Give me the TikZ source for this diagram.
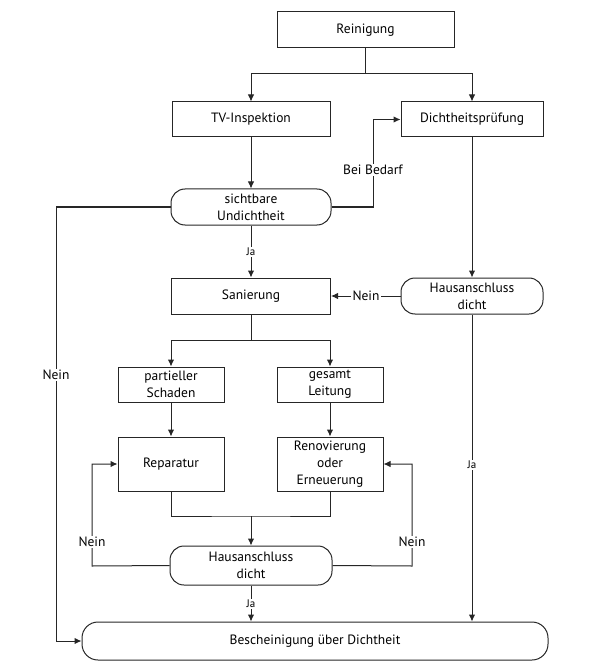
\documentclass[tikz,border=0pt]{standalone}
\usepackage{fontspec}
\setmainfont{PT Sans}
\usetikzlibrary{arrows.meta}
\tikzset{
  box/.style={draw=black!85, line width=1pt, minimum width=#1, align=center, inner sep=2pt, font=\fontsize{13.5}{17}\selectfont},
  box/.default={106pt},
  rbox/.style={box=#1, rounded corners=14pt},
  conn/.style={draw=black!85, line width=1pt},
  arr/.style={conn, -{Latex[length=7pt,width=6.5pt]}},
  lab/.style={fill=white, inner sep=1.5pt, font=\fontsize{13.5}{16}\selectfont},
  jalab/.style={fill=white, inner sep=1.5pt, font=\fontsize{11}{13}\selectfont}
}
\begin{document}
\begin{tikzpicture}[x=1pt,y=-1pt]
\useasboundingbox (0,0) rectangle (590,668);
% nodes
\node[box=177pt, minimum height=36pt] (rein) at (365.5,30) {Reinigung};
\node[box=158pt, minimum height=35pt] (tv) at (251,119.5) {TV-Inspektion};
\node[box=142pt, minimum height=35pt] (dp) at (472,119.5) {Dichtheitsprüfung};
\node[rbox=160pt, minimum height=36pt] (su) at (251,207) {sichtbare\\Undichtheit};
\node[box=159pt, minimum height=36pt] (san) at (251,296) {Sanierung};
\node[rbox=142pt, minimum height=36pt] (hd1) at (472,296) {Hausanschluss\\dicht};
\node[box, minimum height=35pt] (ps) at (171,384.5) {partieller\\Schaden};
\node[box, minimum height=35pt] (gl) at (330,384.5) {gesamt\\Leitung};
\node[box, minimum height=54pt] (rep) at (171,464) {Reparatur};
\node[box, minimum height=54pt] (ren) at (330,464) {Renovierung\\oder\\Erneuerung};
\node[rbox=162pt, minimum height=39pt] (hd2) at (251,565.5) {Hausanschluss\\dicht};
\node[rbox=466pt, minimum height=38pt, rounded corners=16pt] (besch) at (315,641) {Bescheinigung über Dichtheit};
% helper coordinates
\coordinate (split1) at (365.5,74);
\coordinate (bb) at (373,207);
\coordinate (nl) at (56,207);
\coordinate (split2) at (251,340);
\coordinate (merge) at (251,516);
\coordinate (fl) at (92,566);
\coordinate (fr) at (412,566);
% connectors
\draw[conn] (rein.south) -- (split1);
\draw[arr] (split1) -| (tv.north);
\draw[arr] (split1) -| (dp.north);
\draw[arr] (tv.south) -- (su.north);
\draw[arr] (su.east) -- (bb) |- (dp.west);
\node[lab] (bedarf) at (373,170) {Bei Bedarf};
\draw[arr] (su.west) -- (nl) |- (besch.west);
\node[lab] (nein1) at (56,375) {Nein};
\draw[arr] (su.south) -- (san.north);
\node[jalab] (ja1) at (251,252) {Ja};
\draw[arr] (dp.south) -- (hd1.north);
\draw[arr] (hd1.west) -- (san.east);
\node[lab] (nein2) at (366,296) {Nein};
\draw[arr] (hd1.south) -- (hd1.south |- besch.north);
\node[jalab] (ja2) at (472,465) {Ja};
\draw[conn] (san.south) -- (split2);
\draw[arr] (split2) -| (ps.north);
\draw[arr] (split2) -| (gl.north);
\draw[arr] (ps.south) -- (rep.north);
\draw[arr] (gl.south) -- (ren.north);
\draw[conn] (rep.south) |- (merge) -| (ren.south);
\draw[arr] (merge) -- (hd2.north);
\draw[arr] (hd2.west) -- (fl) |- (rep.west);
\node[lab] (nein3) at (92,542) {Nein};
\draw[arr] (hd2.east) -- (fr) |- (ren.east);
\node[lab] (nein4) at (412,542) {Nein};
\draw[arr] (hd2.south) -- (hd2.south |- besch.north);
\node[jalab] (ja3) at (251,604) {Ja};
\end{tikzpicture}
\end{document}
